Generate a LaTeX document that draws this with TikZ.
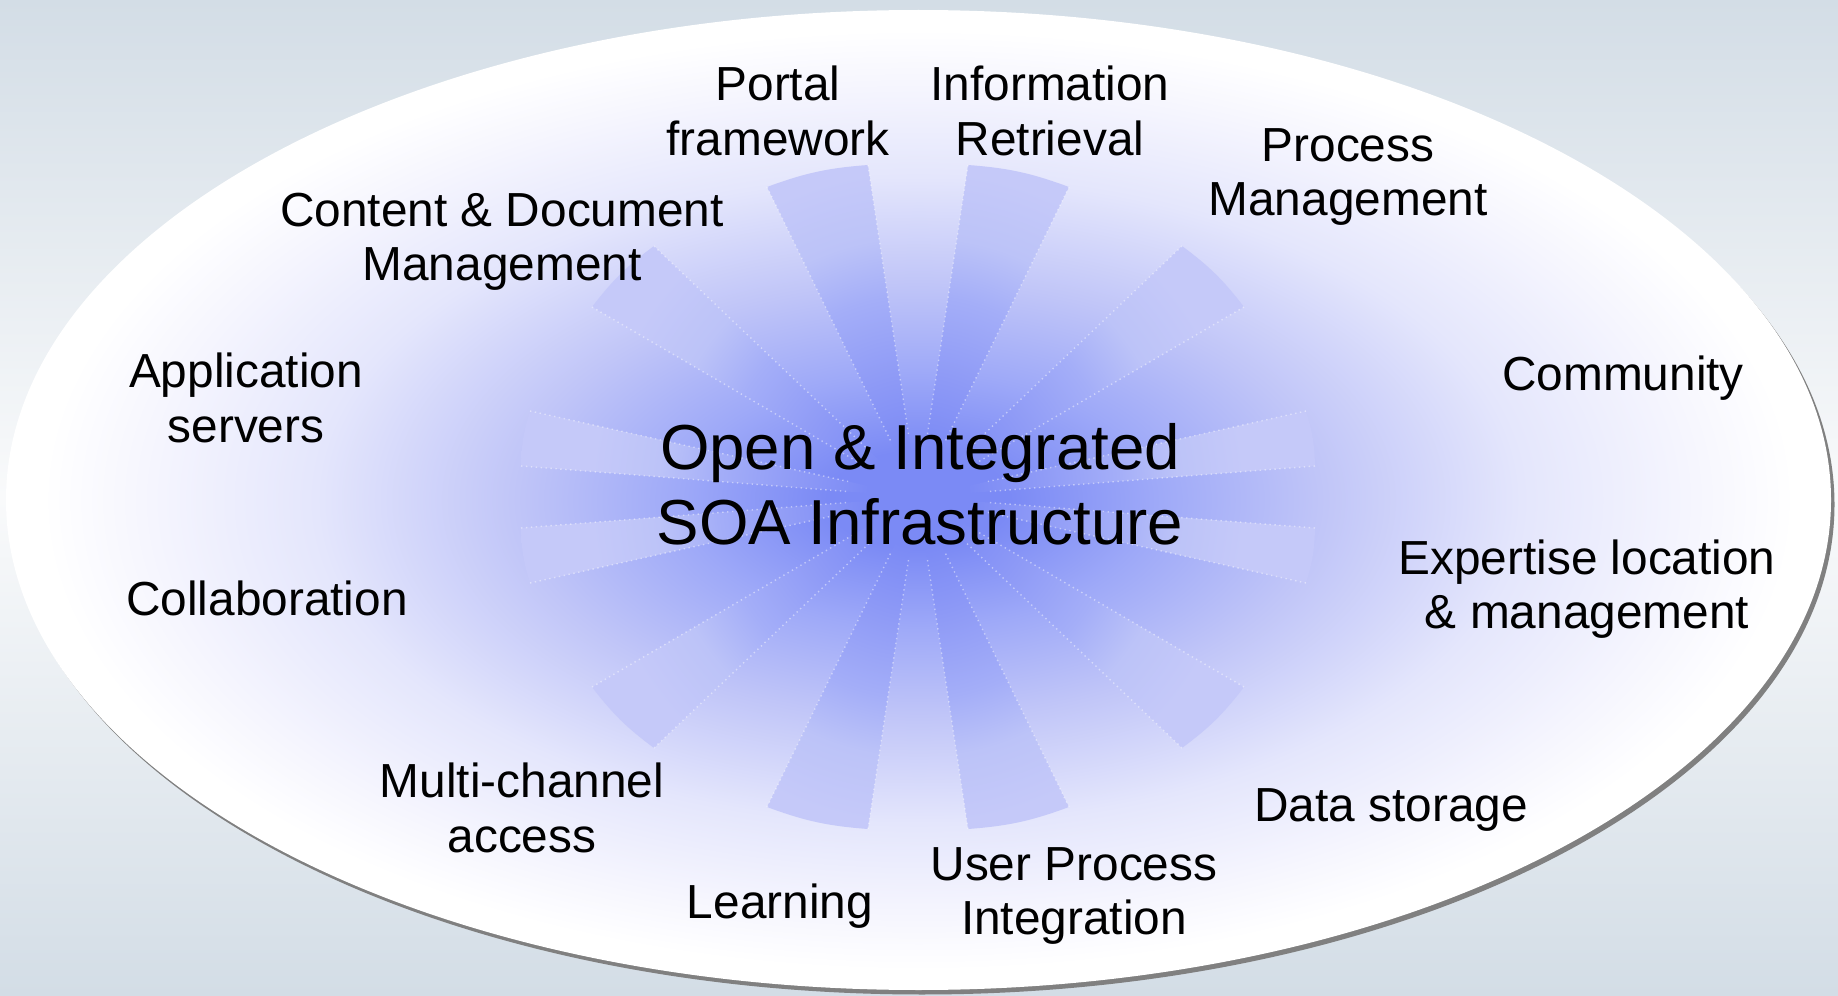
\documentclass[tikz,border=0pt]{standalone}
\usepackage{fontspec}
\setmainfont{Liberation Sans}

\definecolor{bgtop}{RGB}{211,221,230}
\definecolor{bgmid}{RGB}{249,250,251}
\definecolor{shadowgray}{RGB}{128,128,128}
\definecolor{glowA}{RGB}{123,138,245}
\definecolor{glowB}{RGB}{158,169,248}
\definecolor{glowC}{RGB}{192,197,248}
\definecolor{glowD}{RGB}{228,230,252}
\definecolor{glowE}{RGB}{245,245,254}
\definecolor{wedgeA}{RGB}{123,138,245}
\definecolor{wedgeB}{RGB}{141,153,246}
\definecolor{wedgeC}{RGB}{164,174,248}
\definecolor{wedgeD}{RGB}{188,195,248}
\definecolor{wedgeE}{RGB}{197,201,249}

% 25bp が図形の縁
\pgfdeclareradialshading{soaglow}{\pgfpoint{0bp}{0bp}}{color(0bp)=(glowA); color(2.5bp)=(glowA); color(6.5bp)=(glowB); color(11bp)=(glowC); color(16.5bp)=(glowD); color(21bp)=(glowE); color(24bp)=(white); color(50bp)=(white)}
\pgfdeclareradialshading{wedgeglow}{\pgfpoint{0bp}{0bp}}{color(0bp)=(wedgeA); color(3bp)=(wedgeA); color(7bp)=(wedgeB); color(12bp)=(wedgeC); color(15.5bp)=(wedgeD); color(19.5bp)=(wedgeE); color(50bp)=(wedgeE)}

\tikzset{
  item/.style={align=center, font=\fontsize{13.6}{15.5}\selectfont},
  edgeline/.style={draw=white, densely dotted, line width=0.4pt, opacity=0.45}
}

\begin{document}
\begin{tikzpicture}
      % 背景
      \shade[top color=bgtop, bottom color=bgtop, middle color=bgmid] (0,0) rectangle (18.38,9.95);
      \useasboundingbox (0,0) rectangle (18.38,9.95);

      % 楕円
      \fill[shadowgray] (9.22,4.905) ellipse (9.125 and 4.90);
      \shade[shading=soaglow] (9.185,4.95) ellipse (9.125 and 4.90);

      % 放射
      \begin{scope}[shift={(9.18,4.98)}]
        \begin{scope}
          \clip foreach \ax/\ay/\bx/\by in {-1.51/3.10/-0.50/3.32, 0.50/3.32/1.51/3.10,
              2.64/2.51/3.26/1.90, 3.88/0.86/3.97/0.31, 3.97/-0.31/3.88/-0.86,
              3.26/-1.90/2.64/-2.51, 1.51/-3.10/0.50/-3.32, -0.50/-3.32/-1.51/-3.10,
              -2.64/-2.51/-3.26/-1.90, -3.88/-0.86/-3.97/-0.31, -3.97/0.31/-3.88/0.86,
              -3.26/1.90/-2.64/2.51} {
            (0,0) -- (\ax,\ay) to[bend left=8] (\bx,\by) -- cycle
          };
          \shade[shading=wedgeglow] (0,0) circle (4.2);
        \end{scope}
        \foreach \ax/\ay/\bx/\by in {-1.51/3.10/-0.50/3.32, 0.50/3.32/1.51/3.10,
            2.64/2.51/3.26/1.90, 3.88/0.86/3.97/0.31, 3.97/-0.31/3.88/-0.86,
            3.26/-1.90/2.64/-2.51, 1.51/-3.10/0.50/-3.32, -0.50/-3.32/-1.51/-3.10,
            -2.64/-2.51/-3.26/-1.90, -3.88/-0.86/-3.97/-0.31, -3.97/0.31/-3.88/0.86,
            -3.26/1.90/-2.64/2.51} {
          \draw[edgeline] (\ax,\ay) -- ({0.18*\ax},{0.18*\ay});
          \draw[edgeline] (\bx,\by) -- ({0.18*\bx},{0.18*\by});
        }
      \end{scope}

      % 中央
      \node[align=center, font=\fontsize{18.1}{21.3}\selectfont] (soa) at (9.20,5.11) {Open \& Integrated\\SOA Infrastructure};

      % ラベルをはる
      \node[item] (portal) at (7.78,8.84) {Portal\\framework};
      \node[item] (inforet) at (10.50,8.84) {Information\\Retrieval};
      \node[item] (process) at (13.48,8.18) {Process\\Management};
      \node[item] (content) at (5.02,7.53) {Content \& Document\\Management};
      \node[item] (appserv) at (2.46,5.97) {Application\\servers};
      \node[item] (community) at (16.23,6.17) {Community};
      \node[item] (expertise) at (15.87,4.06) {Expertise location\\\& management};
      \node[item] (collab) at (2.67,3.97) {Collaboration};
      \node[item] (multich) at (5.22,1.87) {Multi-channel\\access};
      \node[item] (datastore) at (13.91,1.85) {Data storage};
      \node[item] (learning) at (7.80,0.89) {Learning};
      \node[item] (userproc) at (10.74,0.99) {User Process\\Integration};
\end{tikzpicture}
\end{document}
